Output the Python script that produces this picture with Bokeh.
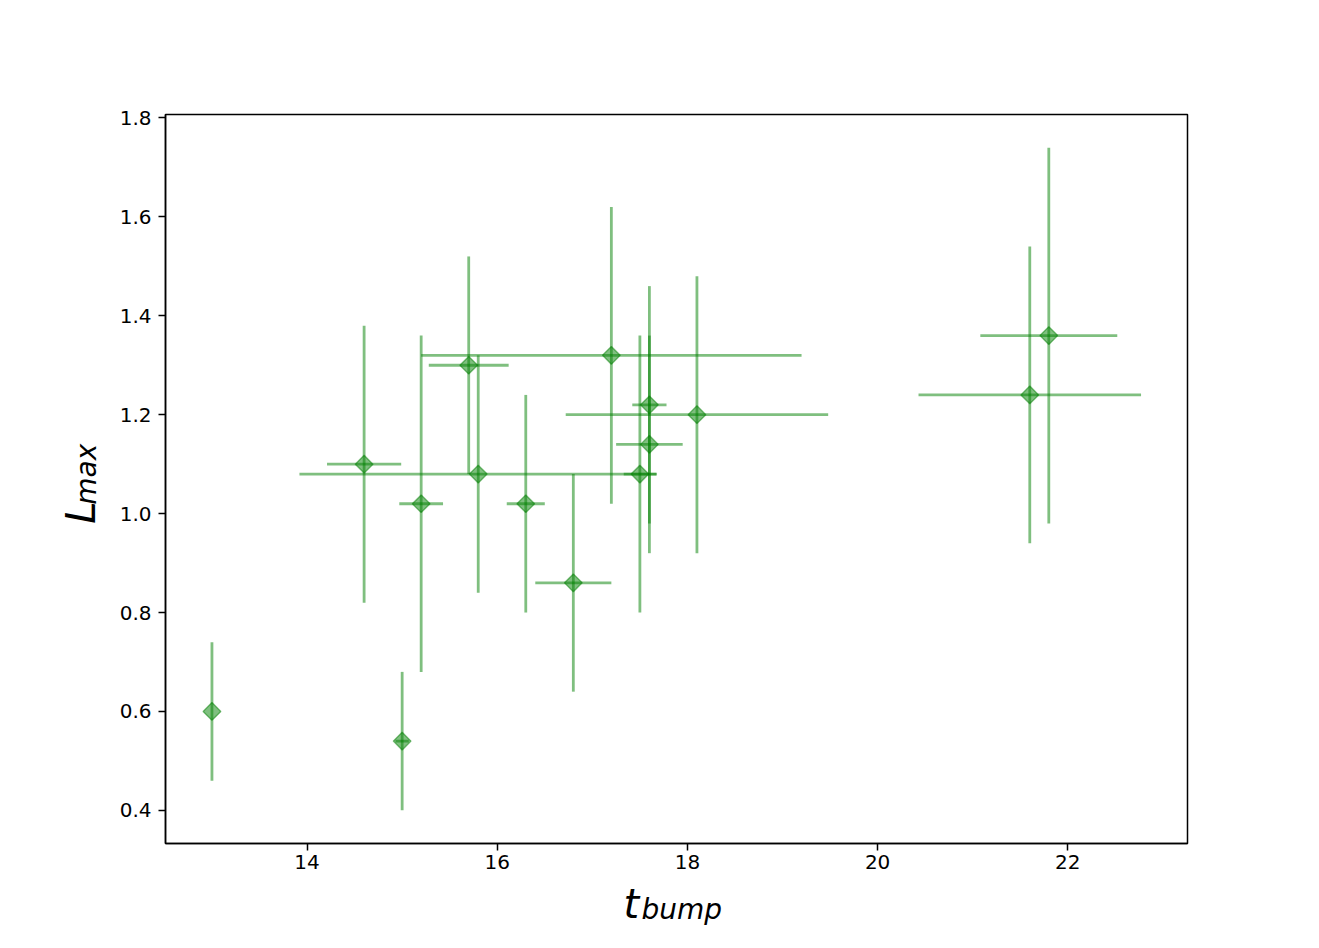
import numpy as np
from bokeh.plotting import figure
from bokeh.layouts import column, row
from bokeh.models import ColumnDataSource, FixedTicker, NumeralTickFormatter, Range1d
from bokeh.core.properties import value
from bokeh.embed import file_html
from bokeh.resources import INLINE

# ---- data ----
t_bump = [13.0, 15.0, 14.6, 15.2, 15.7, 15.8, 16.3, 16.8, 17.2, 17.5, 17.6, 17.6, 18.1, 21.6, 21.8]
l_max = [0.60, 0.54, 1.10, 1.02, 1.30, 1.08, 1.02, 0.86, 1.32, 1.08, 1.22, 1.14, 1.20, 1.24, 1.36]
t_err = [0.0, 0.07, 0.39, 0.23, 0.42, 1.88, 0.20, 0.40, 2.00, 0.17, 0.18, 0.35, 1.38, 1.17, 0.72]
l_err = [0.14, 0.14, 0.28, 0.34, 0.22, 0.24, 0.22, 0.22, 0.30, 0.28, 0.24, 0.22, 0.28, 0.30, 0.38]
x_ticks = [14, 16, 18, 20, 22]
y_ticks = [0.4, 0.6, 0.8, 1.0, 1.2, 1.4, 1.6, 1.8]
x_label = ["t", "bump"]   # t_{bump}
y_label = ["L", "max"]    # L_{max}

x = np.array(t_bump)
y = np.array(l_max)
xe = np.array(t_err)
ye = np.array(l_err)

src = ColumnDataSource(dict(
    x=x, y=y,
    x0=x - xe, x1=x + xe,
    y0=y - ye, y1=y + ye,
))

# matplotlib-like 5% margins
xmin, xmax = (x - xe).min(), (x + xe).max()
ymin, ymax = (y - ye).min(), (y + ye).max()
xpad = 0.05 * (xmax - xmin)
ypad = 0.05 * (ymax - ymin)

W, H = 1319, 948
YLAB_W = 110          # width of the strip holding the y-axis label
MAIN_H = 878          # height of the main plot (the rest holds the x-axis label)

p = figure(width=W - YLAB_W, height=MAIN_H, output_backend="svg", toolbar_location=None,
           x_range=Range1d(xmin - xpad, xmax + xpad),
           y_range=Range1d(ymin - ypad, ymax + ypad),
           min_border_left=165 - YLAB_W, min_border_right=132,
           min_border_top=114, min_border_bottom=MAIN_H - 843)

p.background_fill_color = "white"
p.border_fill_color = "white"
p.xgrid.visible = False
p.ygrid.visible = False
p.outline_line_color = "black"
p.outline_line_width = 1.5
p.outline_line_alpha = 1.0

green = "#008000"
# error bars
p.segment(x0="x0", y0="y", x1="x1", y1="y", source=src,
          line_color=green, line_alpha=0.5, line_width=2.8)
p.segment(x0="x", y0="y0", x1="x", y1="y1", source=src,
          line_color=green, line_alpha=0.5, line_width=2.8)
# diamond markers
p.scatter(x="x", y="y", source=src, marker="square", angle=np.pi / 4,
          size=12.5, fill_color=green, fill_alpha=0.5,
          line_color=green, line_alpha=0.5, line_width=1.4)

for ax in (p.xaxis, p.yaxis):
    ax.axis_line_color = "black"
    ax.axis_line_width = 1.5
    ax.major_tick_line_color = "black"
    ax.major_tick_line_width = 1.5
    ax.major_tick_out = 7
    ax.major_tick_in = 0
    ax.minor_tick_line_color = None
    ax.major_label_text_font = "DejaVu Sans"
    ax.major_label_text_font_size = "20px"
    ax.major_label_text_color = "black"
    ax.major_label_standoff = 7
p.xaxis.major_label_standoff = 4

p.xaxis.ticker = FixedTicker(ticks=x_ticks)
p.yaxis.ticker = FixedTicker(ticks=y_ticks)
p.xaxis.formatter = NumeralTickFormatter(format="0")
p.yaxis.formatter = NumeralTickFormatter(format="0.0")


def label_strip(w, h):
    f = figure(width=w, height=h, output_backend="svg", toolbar_location=None,
               x_range=Range1d(0, w), y_range=Range1d(0, h),
               x_axis_type=None, y_axis_type=None, min_border=0)
    f.outline_line_color = None
    f.background_fill_color = "white"
    f.border_fill_color = "white"
    return f


txt = dict(text_font=value("DejaVu Sans"), text_font_style=value("italic"),
           text_color="black", text_baseline=value("alphabetic"), text_align=value("left"))

# y-axis label strip (pixel coordinates inside the strip, y upwards)
fy = label_strip(YLAB_W, MAIN_H)
fy.text(x=[80], y=[MAIN_H - 493], text=[y_label[0]], angle=np.pi / 2,
        text_font_size=value("40px"), **txt)
fy.text(x=[86], y=[MAIN_H - 470], text=[y_label[1]], angle=np.pi / 2,
        text_font_size=value("28px"), **txt)

# x-axis label strip
XL_H = H - MAIN_H
fx = label_strip(W, XL_H)
fx.text(x=[623], y=[H - 903], text=[x_label[0]], text_font_size=value("40px"), **txt)
fx.text(x=[641], y=[H - 909], text=[x_label[1]], text_font_size=value("28px"), **txt)

layout = column(row(fy, p, spacing=0), fx, spacing=0)

open("out.html", "w").write(file_html(layout, INLINE))
